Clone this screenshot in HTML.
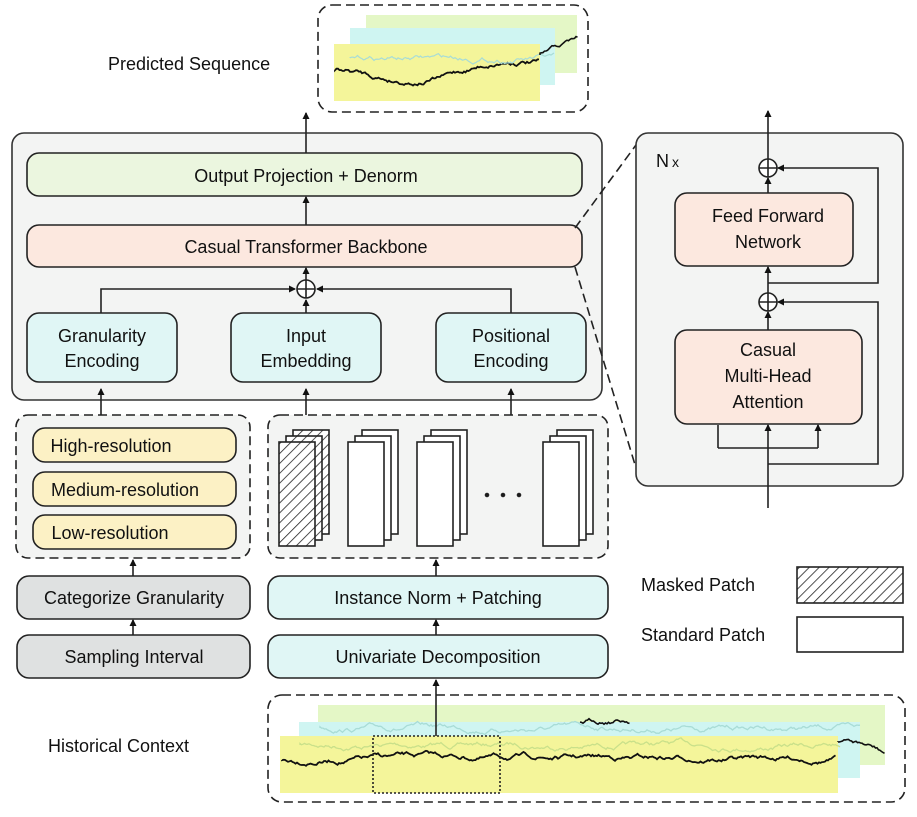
<!DOCTYPE html><html><head><meta charset="utf-8"><style>body{margin:0;background:#fff}text{font-family:"Liberation Sans",sans-serif;fill:#111}</style></head><body>
<svg id="s" width="917" height="812" viewBox="0 0 917 812" xmlns="http://www.w3.org/2000/svg">
<defs>
<marker id="a" markerWidth="8" markerHeight="8" refX="6" refY="4" orient="auto" markerUnits="userSpaceOnUse"><path d="M0,0.5 L7,4 L0,7.5z" fill="#111"/></marker>
<pattern id="h" width="7" height="7" patternUnits="userSpaceOnUse" patternTransform="rotate(45)"><rect width="7" height="7" fill="#fff"/><line x1="0" y1="0" x2="0" y2="7" stroke="#222" stroke-width="1.6"/></pattern>
</defs>
<g stroke="#222" stroke-width="1.6">
<rect x="318" y="5" width="270" height="107" rx="14" fill="#fff" stroke-dasharray="9,5"/>
<rect x="366" y="15" width="211" height="58" fill="#e4f7c6" stroke="none"/>
<rect x="350" y="28" width="205" height="57" fill="#cff5f2" stroke="none"/>
<rect x="334" y="44" width="206" height="57" fill="#f4f59a" stroke="none"/>
<rect x="12" y="133" width="590" height="267" rx="12" fill="#f3f4f3" stroke="#333"/>
<rect x="27" y="153" width="555" height="43" rx="12" fill="#ebf6df"/>
<rect x="27" y="225" width="555" height="42" rx="12" fill="#fce8df"/>
<rect x="27" y="313" width="150" height="69" rx="12" fill="#e0f6f5"/>
<rect x="231" y="313" width="150" height="69" rx="12" fill="#e0f6f5"/>
<rect x="436" y="313" width="150" height="69" rx="12" fill="#e0f6f5"/>
<circle cx="306" cy="289" r="9" fill="#fff"/><path d="M297 289h18M306 280v18" fill="none"/>
<path d="M101 313V289H295" fill="none" marker-end="url(#a)"/>
<path d="M511 313V289H317" fill="none" marker-end="url(#a)"/>
<path d="M306 313V300" fill="none" marker-end="url(#a)"/>
<path d="M306 280V268" fill="none" marker-end="url(#a)"/>
<path d="M306 225V197" fill="none" marker-end="url(#a)"/>
<path d="M306 153V113" fill="none" marker-end="url(#a)"/>
<path d="M575 228L636 145M575 267L636 468" fill="none" stroke-dasharray="9,5"/>
<rect x="636" y="133" width="267" height="353" rx="12" fill="#f3f4f3" stroke="#333"/>
<rect x="675" y="193" width="178" height="73" rx="12" fill="#fce8df"/>
<rect x="675" y="330" width="187" height="94" rx="12" fill="#fce8df"/>
<circle cx="768" cy="168" r="9" fill="#fff"/><path d="M759 168h18M768 159v18" fill="none"/>
<circle cx="768" cy="302" r="9" fill="#fff"/><path d="M759 302h18M768 293v18" fill="none"/>
<path d="M768 159V111" fill="none" marker-end="url(#a)"/>
<path d="M768 193V178" fill="none" marker-end="url(#a)"/>
<path d="M768 293V267" fill="none" marker-end="url(#a)"/>
<path d="M768 330V312" fill="none" marker-end="url(#a)"/>
<path d="M768 283H878V168H778" fill="none" marker-end="url(#a)"/>
<path d="M768 464H878V302H778" fill="none" marker-end="url(#a)"/>
<path d="M768 508V425" fill="none" marker-end="url(#a)"/>
<path d="M718 448H818" fill="none"/>
<path d="M718 448V425M818 448V425" fill="none" marker-end="url(#a)"/>
<rect x="16" y="415" width="234" height="143" rx="12" fill="#f3f4f3" stroke-dasharray="9,5"/>
<rect x="33" y="428" width="203" height="34" rx="12" fill="#fcf1c5"/>
<rect x="33" y="472" width="203" height="34" rx="12" fill="#fcf1c5"/>
<rect x="33" y="515" width="203" height="34" rx="12" fill="#fcf1c5"/>
<rect x="17" y="576" width="233" height="43" rx="12" fill="#dfe1e1"/>
<rect x="17" y="635" width="233" height="43" rx="12" fill="#dfe1e1"/>
<path d="M101 415V389" fill="none" marker-end="url(#a)"/>
<path d="M133 576V560" fill="none" marker-end="url(#a)"/>
<path d="M133 635V620" fill="none" marker-end="url(#a)"/>
<rect x="268" y="415" width="340" height="143" rx="12" fill="#f3f4f3" stroke-dasharray="9,5"/>
<path d="M306 415V389" fill="none" marker-end="url(#a)"/>
<path d="M511 415V389" fill="none" marker-end="url(#a)"/>
<rect x="268" y="576" width="340" height="43" rx="12" fill="#e0f6f5"/>
<rect x="268" y="635" width="340" height="43" rx="12" fill="#e0f6f5"/>
<path d="M436 576V560" fill="none" marker-end="url(#a)"/>
<path d="M436 635V620" fill="none" marker-end="url(#a)"/>
<g id="patches"></g>
<circle cx="487" cy="495" r="1.5" fill="#111"/><circle cx="503" cy="495" r="1.5" fill="#111"/><circle cx="519" cy="495" r="1.5" fill="#111"/>
<rect x="268" y="695" width="637" height="107" rx="14" fill="#fff" stroke-dasharray="9,5"/>
<rect x="318" y="705" width="567" height="60" fill="#e4f7c6" stroke="none"/>
<rect x="299" y="722" width="561" height="56" fill="#cff5f2" stroke="none"/>
<rect x="280" y="736" width="558" height="57" fill="#f4f59a" stroke="none"/>
<g id="waves"></g>
<rect x="373" y="736" width="127" height="57" fill="none" stroke-dasharray="2,2"/>
<path d="M436 736V680" fill="none" marker-end="url(#a)"/>
<rect x="797" y="567" width="106" height="36" fill="url(#h)"/>
<rect x="797" y="617" width="106" height="35" fill="#fff"/>
</g>
<g font-size="18" text-anchor="middle">
<text x="306" y="182">Output Projection + Denorm</text>
<text x="306" y="253">Casual Transformer Backbone</text>
<text x="102" y="342">Granularity</text><text x="102" y="367">Encoding</text>
<text x="306" y="342">Input</text><text x="306" y="367">Embedding</text>
<text x="511" y="342">Positional</text><text x="511" y="367">Encoding</text>
<text x="768" y="222">Feed Forward</text><text x="768" y="248">Network</text>
<text x="768" y="356">Casual</text><text x="768" y="382">Multi-Head</text><text x="768" y="408">Attention</text>
<text x="111" y="452">High-resolution</text>
<text x="125" y="496">Medium-resolution</text>
<text x="110" y="539">Low-resolution</text>
<text x="134" y="604">Categorize Granularity</text>
<text x="134" y="663">Sampling Interval</text>
<text x="438" y="604">Instance Norm + Patching</text>
<text x="438" y="663">Univariate Decomposition</text>
</g>
<g font-size="18">
<text x="108" y="70">Predicted Sequence</text>
<text x="48" y="752">Historical Context</text>
<text x="641" y="591">Masked Patch</text>
<text x="641" y="641">Standard Patch</text>
<text x="656" y="167">N<tspan font-size="14" dx="3">x</tspan></text>
</g>
</svg>
<script>
var NS="http://www.w3.org/2000/svg";
function el(p,t,a){var e=document.createElementNS(NS,t);for(var k in a)e.setAttribute(k,a[k]);p.appendChild(e);return e}
var P=document.getElementById("patches");
[279,348,417,543].forEach(function(x,i){for(var j=2;j>=0;j--){el(P,"rect",{x:x+j*7,y:442-j*6,width:36,height:104,fill:i==0?"url(#h)":"#fff"})}});
var seed=7;function r(){seed=(seed*16807)%2147483647;return seed/2147483647-0.5}
function walk(g,x0,x1,y0,amp,col,w,drift){var d="M"+x0+" "+y0,y=y0;for(var x=x0;x<=x1;x+=1.5){y+=r()*amp+drift(x,y);d+=" L"+x.toFixed(1)+" "+y.toFixed(1)}el(g,"path",{d:d,fill:"none",stroke:col,"stroke-width":w})}
var W=document.getElementById("waves");
walk(W,300,840,745,3,"#c9e08a",1.3,function(x,y){return (745-y)*0.05});
walk(W,320,860,728,3,"#a8dcd6",1.3,function(x,y){return (728-y)*0.05});
walk(W,282,836,760,3,"#111",1.8,function(x,y){return (758-y)*0.05});
walk(W,580,630,722,3,"#111",1.6,function(x,y){return (720-y)*0.1});
walk(W,838,885,742,3,"#111",1.6,function(x,y){return (x-838)*0.02});
var S=document.getElementById("s");var G=el(S,"g",{});
walk(G,335,540,70,3,"#111",1.8,function(x,y){return (70+12*Math.sin((x-335)/35)-y)*0.06});
walk(G,350,555,58,3,"#a8dcd6",1.2,function(x,y){return (58-y)*0.05});
walk(G,540,578,55,3,"#111",1.6,function(x,y){return -0.5});
</script>
</body></html>
